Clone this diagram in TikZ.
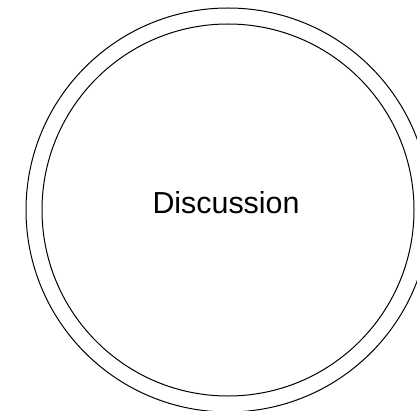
\documentclass[tikz,border=0pt]{standalone}
\usepackage{fontspec}
\setmainfont{Liberation Sans}
\begin{document}
\begin{tikzpicture}[x=1pt,y=1pt,
  ring/.style={draw=black,line width=1pt,circle,inner sep=0pt,fill=none}]
\useasboundingbox (0,0) rectangle (417,410);
\clip (0,0) rectangle (417,410);
\fill[white] (0,0) rectangle (417,410);
\node[ring,minimum size=404pt] (outer) at (228,200) {};
\node[ring,minimum size=372pt] (inner) at (228,200) {};
\node[font=\fontsize{30.4}{36}\selectfont,anchor=base] (label) at (226,196.7) {Discussion};
\end{tikzpicture}
\end{document}
